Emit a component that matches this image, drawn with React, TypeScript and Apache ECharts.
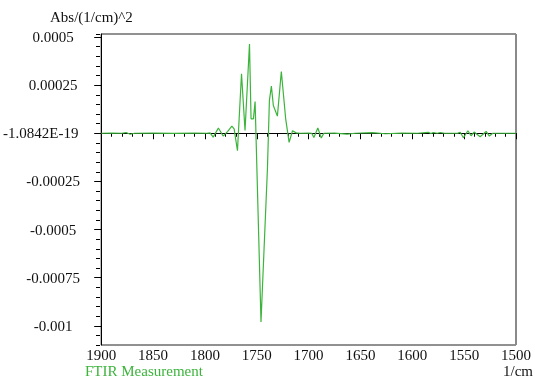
import { useEffect, useRef } from "react";
import * as echarts from "echarts";

// FTIR second-derivative spectrum, wavenumber (1/cm) vs Abs/(1/cm)^2
const wavenumbers = [
  1900, 1890, 1880, 1876, 1872, 1868, 1850, 1830, 1810, 1798,
  1795, 1792, 1787, 1782.4, 1778, 1774, 1771.8, 1768.6, 1764.7, 1761.3,
  1757, 1755.5, 1753.2, 1751.6, 1745.9, 1739.7, 1737.8, 1735.9, 1734, 1730.1,
  1726.3, 1722.1, 1718.8, 1715.5, 1712, 1708, 1700, 1697, 1694.9, 1691.1,
  1687.8, 1685.3, 1675, 1662.8, 1655, 1638.8, 1626, 1610, 1595, 1584.6,
  1582, 1579.8, 1576, 1573, 1569, 1556, 1553.8, 1550.7, 1546.4, 1543.3,
  1540.4, 1534.6, 1528.8, 1525.7, 1522.4, 1510, 1500,
];

const absorbance = [
  0, 0.000001, 0, 0.000004, -0.000005, 0, 0.000001, -0.000001, 0.000001, 0,
  0.000002, -0.00002, 0.000027, -0.0000145, 0.00001, 0.000037, 0.000023, -0.000091, 0.000309, 0.0000145,
  0.000464, 0.000075, 0.000075, 0.000165, -0.00098, -0.000184, 0.00017, 0.000245, 0.000144, 0.000089,
  0.000321, 0.000075, -0.0000477, 0.000013, 0.000002, 0, 0.000001, 0, -0.000022, 0.000027,
  -0.000025, 0, 0.000001, -0.000005, 0, 0.0000036, -0.0000026, 0.000001, 0, 0.000005,
  -0.000001, 0.000004, 0, 0.000004, 0, 0.000001, 0.000005, -0.0000234, 0.000013, -0.000013,
  0.000006, -0.000018, 0.0000093, -0.0000145, 0, 0, 0,
];

const yTickValues = [-0.001, -0.00075, -0.0005, -0.00025, 0, 0.00025, 0.0005];
const yTickLabels = ["-0.001", "-0.00075", "-0.0005", "-0.00025", "-1.0842E-19", "0.00025", "0.0005"];
const yMinorStep = 0.00005;

const seriesName = "FTIR Measurement";
const xUnit = "1/cm";
const yUnit = "Abs/(1/cm)^2";

const Y_MIN = -0.0011;
const Y_MAX = 0.0005156;

const GREEN = "#3cb43c";
const FONT = "'Liberation Serif', 'Times New Roman', serif";

const GRID = { left: 100, top: 34, width: 416, height: 311 };

export default function App() {
  const ref = useRef<HTMLDivElement>(null);

  useEffect(() => {
    if (!ref.current) return;
    const chart = echarts.init(ref.current, undefined, { renderer: "svg" });

    const labelFor = (v: number) => {
      const i = yTickValues.findIndex((t) => Math.abs(t - v) < 1e-9);
      if (i < 0) return "";
      return v === 0 ? `{z|${yTickLabels[i]}}` : yTickLabels[i];
    };

    const spectrum = wavenumbers.map((w, i) => [w, absorbance[i]]);

    chart.setOption({
      animation: false,
      grid: {
        ...GRID,
        show: true,
        borderColor: "#222",
        borderWidth: 1,
        backgroundColor: "transparent",
      },
      xAxis: {
        type: "value",
        min: 1500,
        max: 1900,
        interval: 50,
        inverse: true,
        axisLine: { show: true, lineStyle: { color: "#000", width: 1 } },
        axisTick: { show: true, length: 6, lineStyle: { color: "#000" } },
        minorTick: { show: true, splitNumber: 5, length: 3.5, lineStyle: { color: "#000" } },
        splitLine: { show: false },
        minorSplitLine: { show: false },
        axisLabel: {
          color: "#111",
          fontFamily: FONT,
          fontSize: 15,
          lineHeight: 15,
          margin: 2,
          formatter: (v: number) => String(v),
        },
      },
      yAxis: [
        {
          // long ticks and labels at the major values
          type: "value",
          min: Y_MIN,
          max: Y_MAX,
          position: "left",
          axisLine: { show: true, lineStyle: { color: "#000", width: 1 } },
          axisTick: { show: true, length: 7, customValues: yTickValues, lineStyle: { color: "#000" } },
          splitLine: { show: false },
          axisLabel: {
            customValues: yTickValues,
            formatter: labelFor,
            color: "#111",
            fontFamily: FONT,
            fontSize: 15,
            align: "center",
            margin: 48,
            rich: {
              z: { fontFamily: FONT, fontSize: 15, color: "#111", padding: [0, 25, 0, 0] },
            },
          },
        },
        {
          // short ticks every 0.00005, moved across onto the left edge, pointing outward
          type: "value",
          min: Y_MIN,
          max: Y_MAX,
          interval: yMinorStep,
          position: "right",
          offset: -GRID.width,
          axisLine: { show: false },
          axisTick: { show: true, inside: true, length: 4, lineStyle: { color: "#000" } },
          axisLabel: { show: false },
          splitLine: { show: false },
        },
      ],
      graphic: [
        {
          type: "line",
          shape: {
            x1: GRID.left + GRID.width,
            y1: GRID.top,
            x2: GRID.left + GRID.width,
            y2: GRID.top + GRID.height,
          },
          style: { stroke: "#8a8a8a", lineWidth: 2 },
        },
        {
          type: "text",
          left: 50,
          top: 9,
          style: { text: yUnit, font: `15px ${FONT}`, fill: "#111" },
        },
        {
          type: "text",
          left: 85,
          top: 363,
          style: { text: seriesName, font: `15px ${FONT}`, fill: GREEN },
        },
        {
          type: "text",
          right: 2,
          top: 363,
          style: { text: xUnit, font: `15px ${FONT}`, fill: "#111" },
        },
      ],
      series: [
        {
          name: seriesName,
          type: "line",
          xAxisIndex: 0,
          yAxisIndex: 0,
          data: spectrum,
          showSymbol: false,
          lineStyle: { color: GREEN, width: 1.2 },
          z: 1,
        },
      ],
    });

    return () => chart.dispose();
  }, []);

  return (
    <div
      ref={ref}
      style={{ position: "fixed", left: 0, top: 0, width: 535, height: 380 }}
    />
  );
}
